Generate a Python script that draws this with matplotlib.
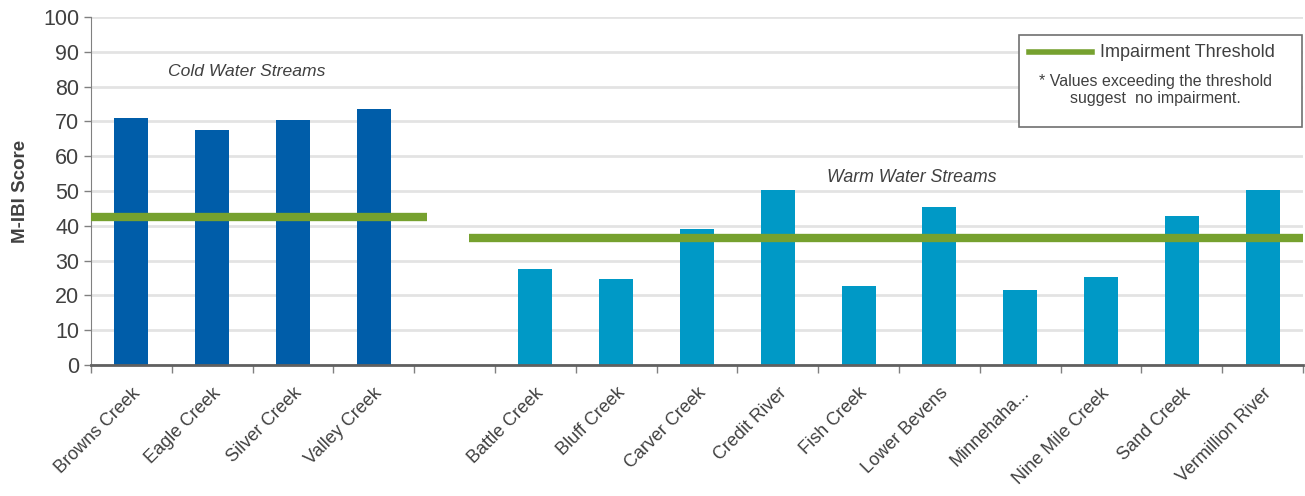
import matplotlib.pyplot as plt
from matplotlib.patches import Rectangle
from matplotlib.lines import Line2D
import numpy as np

plt.rcParams['font.family'] = ['Liberation Sans', 'DejaVu Sans']

# data
cold_names = ['Browns Creek', 'Eagle Creek', 'Silver Creek', 'Valley Creek']
cold_scores = [71.0, 67.4, 70.4, 73.5]
warm_names = ['Battle Creek', 'Bluff Creek', 'Carver Creek', 'Credit River', 'Fish Creek',
              'Lower Bevens', 'Minnehaha...', 'Nine Mile Creek', 'Sand Creek', 'Vermillion River']
warm_scores = [27.7, 24.7, 39.2, 50.3, 22.7, 45.3, 21.6, 25.2, 42.8, 50.3]
cold_threshold = 42.4
warm_threshold = 36.6

cold_color = '#005DA9'
warm_color = '#0099C6'
green = '#76A12F'
txt = '#404040'

labels = cold_names + [''] + warm_names
x_cold = np.arange(len(cold_names))
x_warm = np.arange(len(warm_names)) + len(cold_names) + 1

fig = plt.figure(figsize=(13.05, 4.96), dpi=100)
ax = fig.add_axes([0.0697, 0.264, 0.9288, 0.702])

ax.set_axisbelow(True)
ax.yaxis.grid(True, color='#E3E3E3', linewidth=2)
ax.bar(x_cold, cold_scores, width=0.42, color=cold_color, zorder=2)
ax.bar(x_warm, warm_scores, width=0.42, color=warm_color, zorder=2)

# threshold lines
ax.plot([-0.5, 3.66], [cold_threshold] * 2, color=green, linewidth=6, solid_capstyle='butt', zorder=3)
ax.plot([4.18, 14.5], [warm_threshold] * 2, color=green, linewidth=6, solid_capstyle='butt', zorder=3)

ax.text(1.43, 84.3, 'Cold Water Streams', style='italic', fontsize=12.6, color=txt, ha='center', va='center')
ax.text(9.66, 54.0, 'Warm Water Streams', style='italic', fontsize=12.8, color=txt, ha='center', va='center')

ax.set_xlim(-0.5, len(labels) - 0.5)
ax.set_ylim(0, 100)
ax.set_yticks(np.arange(0, 101, 10))
ax.tick_params(axis='y', labelsize=15.5, labelcolor=txt, color='#808080', length=5, width=1)

ax.set_xticks(np.arange(len(labels)))
ax.set_xticklabels(labels, rotation=45, ha='right', rotation_mode='anchor', fontsize=13, color=txt)
ax.tick_params(axis='x', length=0, pad=14)
ax.set_xticks(np.arange(len(labels) + 1) - 0.5, minor=True)
ax.tick_params(axis='x', which='minor', length=6, color='#808080', width=1)

ax.set_ylabel('M-IBI Score', fontsize=13.5, fontweight='bold', color=txt, labelpad=10)

for s in ['top', 'right']:
    ax.spines[s].set_visible(False)
ax.spines['left'].set_color('#808080')
ax.spines['bottom'].set_color('#606060')
ax.spines['bottom'].set_linewidth(2)

# legend box
ax.add_patch(Rectangle((0.766, 0.684), 0.233, 0.264, transform=ax.transAxes,
                       facecolor='white', edgecolor='#707070', linewidth=1.2, zorder=5, clip_on=False))
ax.add_line(Line2D([0.774, 0.826], [0.899, 0.899], transform=ax.transAxes,
                   color=green, linewidth=4, zorder=6))
ax.text(0.8325, 0.899, 'Impairment Threshold', transform=ax.transAxes, fontsize=13,
        color=txt, ha='left', va='center', zorder=6)
ax.text(0.878, 0.79, '* Values exceeding the threshold\nsuggest  no impairment.', transform=ax.transAxes,
        fontsize=11.5, color=txt, ha='center', va='center', linespacing=1.2, zorder=6)

plt.savefig('out.png')
